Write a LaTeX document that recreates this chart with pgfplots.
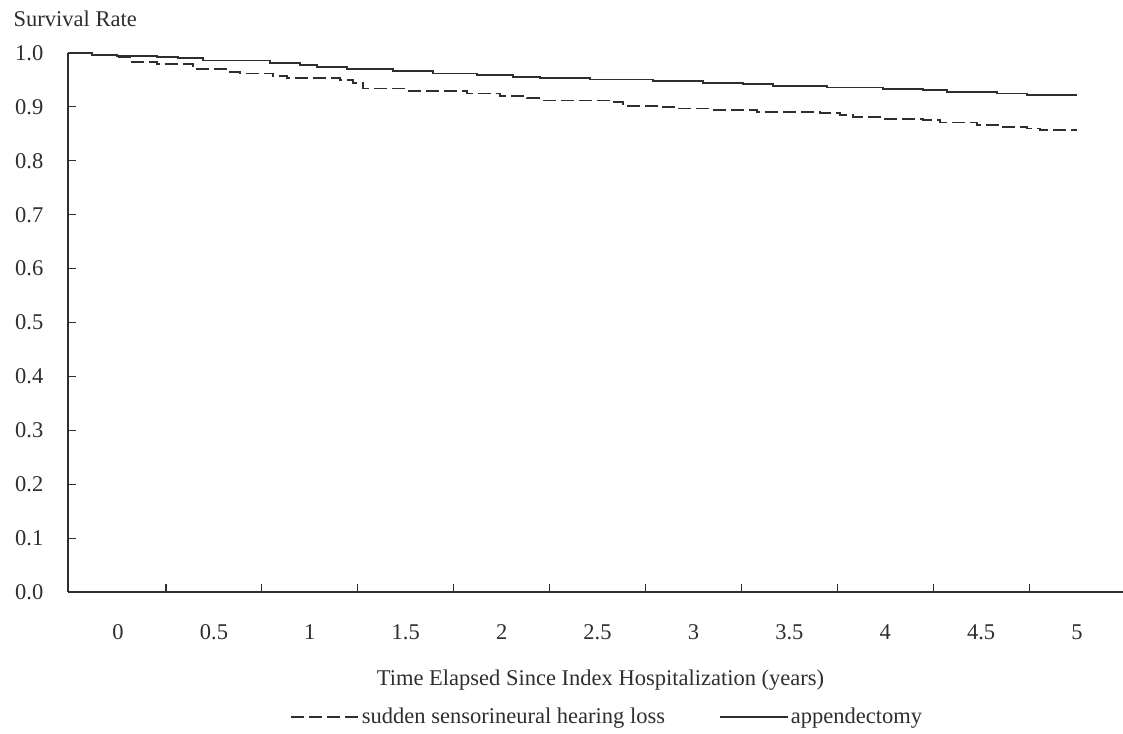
\documentclass[border=0pt]{standalone}
\usepackage{fontspec}
\setmainfont{Liberation Serif}
\usepackage{pgfplots}
\pgfplotsset{compat=1.18}
\definecolor{ink}{HTML}{2E2E2E}
\begin{document}
\fontsize{22.5}{26}\selectfont
\begin{tikzpicture}
\path[use as bounding box] (-68pt,-141pt) rectangle (1055pt,592pt);
\begin{axis}[
  scale only axis, width=1055pt, height=539pt,
  xmin=-0.261, xmax=5.24, ymin=0, ymax=1,
  axis lines=left,
  axis line style={-, draw=ink, line width=1.4pt},
  tick align=inside,
  major tick length=8pt, minor tick length=8pt,
  tick style={draw=ink, line width=1.1pt},
  major x tick style={draw=none},
  xtick={0,0.5,...,5},
  minor xtick={0.25,0.75,...,4.75},
  ytick={0,0.1,...,1.0},
  /pgf/number format/assume math mode=true,
  yticklabel style={/pgf/number format/fixed, /pgf/number format/precision=1, /pgf/number format/fixed zerofill, xshift=-17pt, text=ink},
  xticklabel style={yshift=-25pt, text=ink},
  xlabel={Time Elapsed Since Index Hospitalization (years)},
  xlabel style={at={(axis description cs:0.5,0)}, anchor=center, yshift=-88pt, xshift=5pt, text=ink},
  legend columns=2,
  legend style={at={(axis description cs:0.511,0)}, anchor=center, yshift=-125pt, draw=none, fill=none, text=ink,
    /tikz/every even column/.append style={column sep=52pt}},
  legend image code/.code={\draw[#1] (0pt,0pt) -- (68pt,0pt);},
  clip=false,
]
\addplot[const plot, ink, line width=1.8pt, dash pattern=on 13pt off 5pt] coordinates {
(-0.261,1.000) (-0.136,0.997) (-0.005,0.992) (0.063,0.984) (0.203,0.979)
(0.391,0.970) (0.568,0.964) (0.636,0.962) (0.808,0.958) (0.881,0.953)
(1.157,0.950) (1.225,0.944) (1.277,0.934) (1.507,0.930) (1.820,0.925)
(1.992,0.920) (2.132,0.916) (2.200,0.912) (2.565,0.909) (2.633,0.902)
(2.842,0.900) (2.915,0.897) (3.087,0.894) (3.332,0.891) (3.660,0.888)
(3.764,0.885) (3.832,0.881) (3.973,0.878) (4.197,0.876) (4.286,0.871)
(4.479,0.866) (4.614,0.862) (4.739,0.860) (4.807,0.857) (5.000,0.857)
};
\addlegendentry{sudden sensorineural hearing loss}
\addplot[const plot, ink, line width=1.8pt] coordinates {
(-0.261,1.000) (-0.136,0.997) (-0.005,0.995) (0.203,0.993) (0.313,0.990)
(0.443,0.986) (0.792,0.981) (0.949,0.978) (1.038,0.974) (1.194,0.970)
(1.434,0.967) (1.642,0.962) (1.872,0.959) (2.059,0.956) (2.200,0.953)
(2.461,0.951) (2.789,0.948) (3.050,0.944) (3.259,0.942) (3.415,0.939)
(3.697,0.936) (3.989,0.933) (4.197,0.931) (4.322,0.928) (4.583,0.925)
(4.739,0.922) (5.000,0.922)
};
\addlegendentry{appendectomy}
\end{axis}
\node[anchor=west, text=ink] at (-62pt,573pt) {Survival Rate};
\end{tikzpicture}
\end{document}
